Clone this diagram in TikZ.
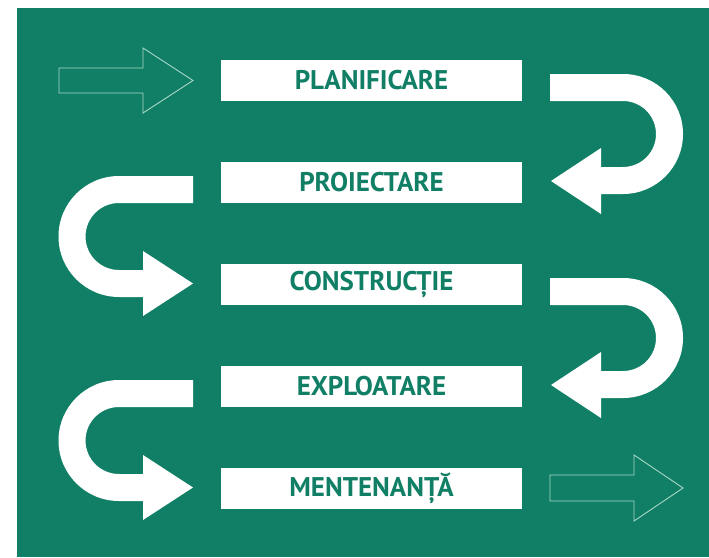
\documentclass[tikz,border=0pt]{standalone}
\usepackage{fontspec}
\setmainfont{PT Sans}
\usetikzlibrary{positioning}
\definecolor{verde}{RGB}{17,127,101}
\definecolor{mint}{RGB}{168,216,200}
\tikzset{
  stage/.style={fill=white,text=verde,font=\fontsize{27}{30}\selectfont\bfseries,
    minimum width=301pt,minimum height=41pt,inner sep=0pt,outer sep=0pt},
  hollow/.style={draw=mint,line width=0.9pt,line join=miter},
  uturn/.style={fill=white,draw=none}
}
\begin{document}
\begin{tikzpicture}[x=1pt,y=-1pt,node distance=61pt]
  \useasboundingbox (0,0) rectangle (709,557);
  \fill[verde] (17,8) rectangle (709,557);
  % etapele
  \node[stage] (plan) at (371.5,80.5) {PLANIFICARE};
  \node[stage,below=of plan] (proiect) {PROIECTARE};
  \node[stage,below=of proiect] (constr) {CONSTRUCȚIE};
  \node[stage,below=of constr] (exploat) {EXPLOATARE};
  \node[stage,below=of exploat] (menten) {MENTENANȚĂ};
  % intrare si iesire
  \draw[hollow] (59,68) -- (143,68) -- (143,48) -- (193,80.5) -- (143,113)
    -- (143,93) -- (59,93) -- cycle;
  \draw[hollow] (550,475) -- (634,475) -- (634,455) -- (683,488) -- (634,521)
    -- (634,501) -- (550,501) -- cycle;
  % intoarceri dreapta
  \foreach \dy in {0,204}{
    \fill[uturn,yshift=-\dy pt] (550,74) -- (623,74)
      arc[start angle=-90,end angle=90,radius=60] -- (601,194) -- (601,214)
      -- (551,181) -- (601,148) -- (601,167) -- (623,167)
      arc[start angle=90,end angle=-90,radius=33] -- (550,101) -- cycle;
  }
  % intoarceri stanga
  \foreach \dy in {0,204}{
    \fill[uturn,yshift=-\dy pt] (193,176) -- (119,176)
      arc[start angle=-90,end angle=-270,radius=60.5] -- (143,297) -- (143,316)
      -- (193,283.5) -- (143,251) -- (143,270) -- (119,270)
      arc[start angle=90,end angle=270,radius=33.5] -- (193,203) -- cycle;
  }
\end{tikzpicture}
\end{document}
